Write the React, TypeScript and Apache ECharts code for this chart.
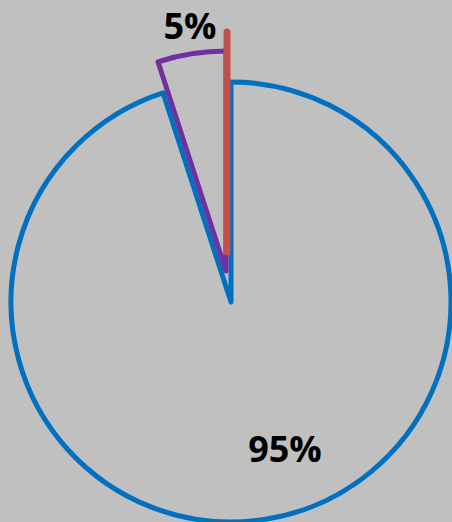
import React, { useEffect, useRef } from "react";
import * as echarts from "echarts";

const categories = ["A", "B", "C"];
const values = [95, 5, 0];
const colors = ["#0070C0", "#7030A0", "#C0504D"];

export default function App() {
  const ref = useRef<HTMLDivElement>(null);
  useEffect(() => {
    if (!ref.current) return;
    const chart = echarts.init(ref.current, null, { renderer: "svg" });
    const total = values.reduce((a, b) => a + b, 0);
    const pct = values.map((v) => Math.round((v / total) * 100) + "%");
    // exploded centres (style): base, purple offset, red offset
    const centers = [
      [231, 302],
      [226, 271],
      [227, 252],
    ];
    const widths = [5, 5, 7];
    const series = values.map((_, i) => ({
      type: "pie",
      center: centers[i],
      radius: [0, 220],
      startAngle: 90,
      clockwise: true,
      silent: true,
      animation: false,
      label: { show: false },
      labelLine: { show: false },
      emphasis: { disabled: true },
      data: values.map((v, j) => ({
        name: categories[j],
        value: v,
        itemStyle:
          j === i
            ? {
                color: "transparent",
                borderColor: colors[j],
                borderWidth: widths[j],
                borderJoin: "round",
                borderCap: "round",
              }
            : { color: "transparent", borderWidth: 0 },
      })),
    }));
    chart.setOption({
      animation: false,
      backgroundColor: "#C0C0C0",
      series,
      graphic: [
        {
          type: "text",
          x: 285,
          y: 448,
          style: {
            text: pct[0],
            fill: "#000",
            font: "bold 36px 'Open Sans'",
            textAlign: "center",
            textVerticalAlign: "middle",
          },
        },
        {
          type: "text",
          x: 190,
          y: 25,
          style: {
            text: pct[1],
            fill: "#000",
            font: "bold 36px 'Open Sans'",
            textAlign: "center",
            textVerticalAlign: "middle",
          },
        },
      ],
    });
    return () => chart.dispose();
  }, []);
  return (
    <div
      ref={ref}
      style={{ position: "fixed", left: 0, top: 0, width: 452, height: 522 }}
    />
  );
}
